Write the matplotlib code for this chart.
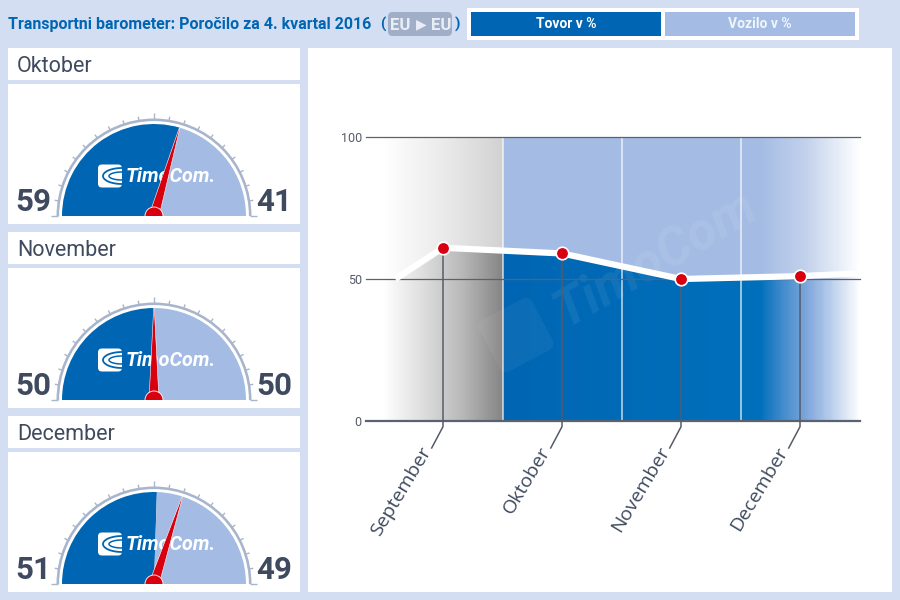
import numpy as np
import matplotlib
matplotlib.use("Agg")
import matplotlib.pyplot as plt
from matplotlib.patches import Wedge, Rectangle, FancyBboxPatch, Polygon, Circle
from matplotlib.colors import LinearSegmentedColormap
from matplotlib.transforms import Affine2D

W, H = 900, 600

months = ["Oktober", "November", "December"]
tovor = [59, 50, 51]
vozilo = [41, 50, 49]
needle = [59, 50, 60]  # december needle really sits near 60 in the source

trend_labels = ["September", "Oktober", "November", "December"]
trend_x = [0, 1, 2, 3]
trend_y = [61, 59, 50, 51]
# line runs on past the first and last month into the faded edges
edge_x = [-0.4, 3.5]
edge_y = [50, 52]
y_ticks = [0, 50, 100]

BG = "#D3DEF2"
BLUE = "#0066B3"
LIGHT = "#A4BCE4"
RED = "#D8000F"
DARK = "#3F4A5F"
GAUGE = "#A9B5CB"

plt.rcParams["font.family"] = ["Roboto", "DejaVu Sans"]

fig = plt.figure(figsize=(W / 100, H / 100), dpi=100, facecolor=BG)


def fx(x):
    return x / W


def fy(y):
    return 1 - y / H


def box(x0, y0, x1, y1, color):
    fig.add_artist(Rectangle((fx(x0), fy(y1)), (x1 - x0) / W, (y1 - y0) / H,
                             transform=fig.transFigure, fc=color, ec="none",
                             zorder=-1))


def axes_px(x0, y0, x1, y1, **kw):
    return fig.add_axes([fx(x0), fy(y1), (x1 - x0) / W, (y1 - y0) / H], **kw)


def draw_logo(ax, x, y):
    ax.add_patch(FancyBboxPatch((x, y - 11.5), 24, 23,
                                boxstyle="round,pad=0,rounding_size=4",
                                fc="white", ec="none", zorder=4))
    # swoosh: nested blue crescents opening to the right
    phi = np.linspace(-np.pi / 2, np.pi / 2, 40)
    for a, b, lw in ((19, 8, 1.3), (13, 4, 1.1)):
        ax.plot(x + 24 - a * np.cos(phi), y + b * np.sin(phi), color=BLUE, lw=lw,
                zorder=4.1, solid_capstyle="butt")
    ax.text(x + 28, y - 1, "TimoCom.", color="white", fontsize=14.2,
            fontweight="bold", style="italic", ha="left", va="center", zorder=4)


def draw_gauge(y_top, month, left, right, pointer):
    # title strip
    box(8, y_top, 300, y_top + 32, "white")
    fig.text(fx(17), fy(y_top + 18.5), month, fontsize=15.5, color=DARK,
             ha="left", va="center")

    ax = axes_px(8, y_top + 36, 300, y_top + 176)
    ax.set_xlim(-146, 146)
    ax.set_ylim(-8, 132)
    ax.set_aspect("equal")
    ax.set_xticks([])
    ax.set_yticks([])
    for s in ax.spines.values():
        s.set_visible(False)

    split = 180 - 180 * left / (left + right)
    ax.add_patch(Wedge((0, 0), 92, split, 180, fc=BLUE, ec="none", zorder=2))
    ax.add_patch(Wedge((0, 0), 92, 0, split, fc=LIGHT, ec="none", zorder=2))
    ax.add_patch(Wedge((0, 0), 97.5, 0, 180, width=2.6, fc=GAUGE, ec="none", zorder=2))

    for pct in range(0, 101, 5):
        a = np.pi * (1 - pct / 100)
        r0, r1 = 96, (103 if pct in (0, 50, 100) else 100.5)
        ax.plot([r0 * np.cos(a), r1 * np.cos(a)], [r0 * np.sin(a), r1 * np.sin(a)],
                color=GAUGE, lw=1, zorder=2, solid_capstyle="butt")

    draw_logo(ax, -56, 40)

    a = np.pi * (1 - pointer / 100)
    ux, uy = np.cos(a), np.sin(a)
    nx, ny = -uy, ux
    ax.add_patch(Polygon([(-5 * nx, -5 * ny), (5 * nx, 5 * ny),
                          (92 * ux + 0.3 * nx, 92 * uy + 0.3 * ny),
                          (92 * ux - 0.3 * nx, 92 * uy - 0.3 * ny)],
                         fc=RED, ec="#FFFFFF", lw=0.4, zorder=5))
    ax.add_patch(Circle((0, 0), 9, fc=RED, ec="white", lw=0.6, zorder=6))
    ax.add_patch(Rectangle((-12, -8), 24, 8, fc="white", ec="none", zorder=7))

    ax.text(-138.5, 5, str(left), fontsize=22.5, fontweight="bold", color=DARK,
            ha="left", va="baseline")
    ax.text(102, 5, str(right), fontsize=22.5, fontweight="bold", color=DARK,
            ha="left", va="baseline")


def draw_trend():
    # plot area spans x 366-860 and y 137-421 in picture pixels
    ax = axes_px(366, 137, 860, 421)
    ax.set_xlim(-0.647, 3.504)
    ax.set_ylim(0, 100)
    ax.patch.set_alpha(0)
    for s in ax.spines.values():
        s.set_visible(False)
    ax.set_xticks([])
    ax.set_yticks(y_ticks)
    ax.tick_params(axis="y", length=0, pad=3, labelsize=9, labelcolor="#555B68")

    xs = [edge_x[0]] + trend_x + [edge_x[1]]
    ys = [edge_y[0]] + trend_y + [edge_y[1]]
    x_lo, x_hi = ax.get_xlim()
    gx = np.linspace(0, 1, 300).reshape(1, -1)

    # four gradient layers: grey / blue, above / below the line
    def band(x0, x1, colors, clip, z=1):
        cmap = LinearSegmentedColormap.from_list("b", colors)
        im = ax.imshow(gx, extent=(x0, x1, 0, 100), cmap=cmap, aspect="auto",
                       vmin=0, vmax=1, zorder=z, interpolation="bilinear")
        im.set_clip_path(Polygon(clip, transform=ax.transData))

    upper = list(zip(xs, ys)) + [(xs[-1], 100), (xs[0] - 0.2, 100), (xs[0] - 0.2, ys[0])]
    lower = list(zip(xs, ys)) + [(xs[-1], 0), (xs[0] - 0.2, 0), (xs[0] - 0.2, ys[0])]
    band(-0.5, 0.5, ["#FFFFFF", "#EBEBEB", "#D2D2D2"], upper)
    band(-0.5, 0.5, ["#FFFFFF", "#DEDEDE", "#B8B8B8", "#858585"], lower)
    stops = [(0, LIGHT), (0.72, LIGHT), (0.85, "#C3D2EC"), (1, "#FFFFFF")]
    band(0.5, 3.504, stops, upper)
    stops = [(0, BLUE), (0.72, "#0070BC"), (0.78, "#3F8ACB"), (0.87, "#8FB0DF"), (1, "#FFFFFF")]
    band(0.5, 3.504, stops, lower)

    # watermark
    ax.text(1.78, 57, "TimoCom", color="white", alpha=0.07, fontsize=38,
            fontweight="bold", style="italic", rotation=30, ha="center",
            va="center", zorder=1.5)
    rot = Affine2D().rotate_deg_around(516, 600 - 335, 28)
    ax.add_patch(FancyBboxPatch((486, 600 - 364), 60, 58,
                                boxstyle="round,pad=0,rounding_size=8",
                                transform=rot, fc="white", alpha=0.05, ec="none",
                                zorder=1.5, clip_on=False))

    for m in (0.5, 1.5, 2.5):
        ax.plot([m, m], [0, 100], color="white", alpha=0.65, lw=1.3, zorder=2)

    for v in y_ticks:
        ax.plot([x_lo, x_hi], [v, v], color="#5A6272", lw=0.9 if v else 1.6,
                zorder=3, clip_on=False)

    ax.plot(xs, ys, color="white", lw=4.5, zorder=4, solid_joinstyle="round",
            solid_capstyle="butt")

    for x, v, lab in zip(trend_x, trend_y, trend_labels):
        ax.plot([x, x, x - 0.095], [v, -2, -9.5], color="#555B68", lw=1.1, zorder=3.5,
                clip_on=False)
        ax.text(x - 0.135, -9.5, lab, rotation=59, rotation_mode="anchor", ha="right",
                va="center", fontsize=14, color=DARK, clip_on=False,
                family="Open Sans")
    ax.plot(trend_x, trend_y, "o", ms=9, mfc=RED, mec="white", mew=1.2, zorder=5)


# page furniture
box(308, 48, 892, 592, "white")
box(467, 8, 859, 40, "white")
box(471, 12, 661, 36, BLUE)
box(665, 12, 855, 36, LIGHT)
fig.text(fx(566), fy(23.5), "Tovor v %", fontsize=10, fontweight="bold", color="white",
         ha="center", va="center")
fig.text(fx(760), fy(23.5), "Vozilo v %", fontsize=10, fontweight="bold",
         color="#F1F5FB", ha="center", va="center")

fig.text(fx(8), fy(24.5), "Transportni barometer: Poročilo za 4. kvartal 2016",
         fontsize=11.55, fontweight="bold", color=BLUE, ha="left", va="center")
fig.text(fx(383), fy(24.5), "(", fontsize=11, fontweight="bold", color=BLUE,
         ha="center", va="center")
fig.text(fx(457.5), fy(24.5), ")", fontsize=11, fontweight="bold", color=BLUE,
         ha="center", va="center")
fig.add_artist(FancyBboxPatch((fx(388), fy(36)), 64 / W, 24 / H,
                              boxstyle="round,pad=0,rounding_size=0.005",
                              mutation_aspect=1.5, transform=fig.transFigure,
                              fc="#A0AEC8", ec="none"))
fig.text(fx(400), fy(25), "EU", fontsize=12, fontweight="bold", color="#E8EDF6",
         ha="center", va="center")
fig.text(fx(421), fy(24), "▶", fontsize=10, color="#E8EDF6", ha="center", va="center",
         family="DejaVu Sans")
fig.text(fx(441), fy(25), "EU", fontsize=12, fontweight="bold", color="#E8EDF6",
         ha="center", va="center")

for i, month in enumerate(months):
    draw_gauge(48 + 184 * i, month, tovor[i], vozilo[i], needle[i])

draw_trend()

fig.savefig("out.png", dpi=100, facecolor=BG)
